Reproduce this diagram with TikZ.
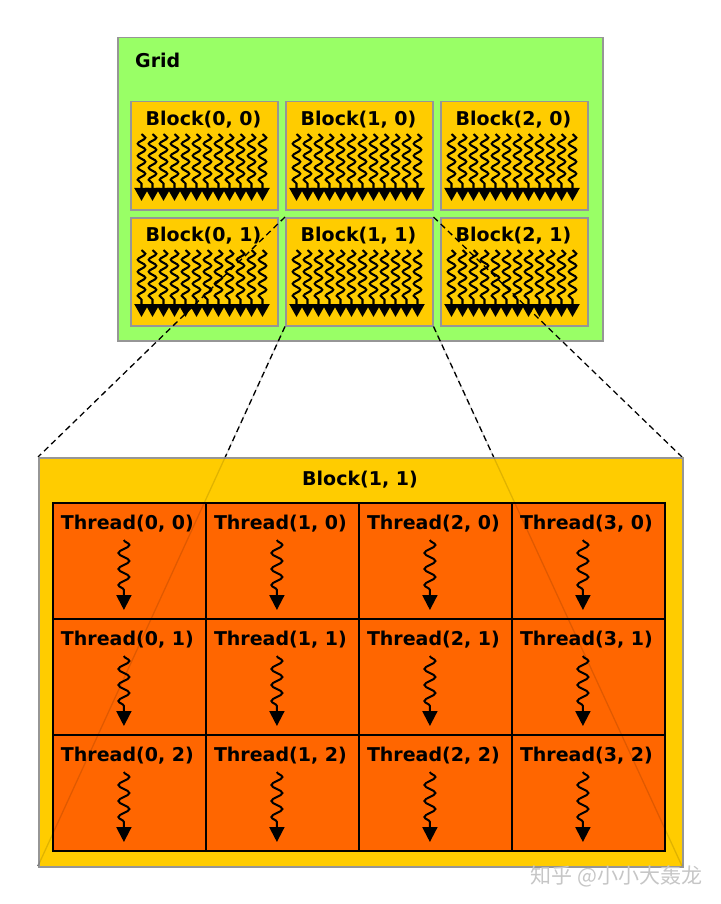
\documentclass[tikz,border=0pt]{standalone}
\usepackage{fontspec}
\setmainfont{DejaVu Sans}
\newfontfamily\cjkfont{Noto Sans CJK SC}
\usetikzlibrary{positioning,arrows.meta,decorations.pathmorphing}
\definecolor{grid-green}{RGB}{153, 255, 102}
\definecolor{block-yellow}{RGB}{255, 204, 0}
\definecolor{thread-orange}{RGB}{255, 102, 0}
\definecolor{frame-gray}{RGB}{150, 150, 150}

\begin{document}
\begin{tikzpicture}[
        x=1pt, y=-1pt,
        gridbox/.style={draw=frame-gray, line width=1.5pt, fill=grid-green, anchor=north west, inner sep=0pt, minimum width=485pt, minimum height=303pt},
        blockbox/.style={draw=frame-gray, line width=1.5pt, fill=block-yellow, anchor=north west, inner sep=0pt, minimum width=147pt, minimum height=108pt},
        bigbox/.style={draw=frame-gray, line width=1.5pt, fill=block-yellow, anchor=north west, inner sep=0pt, minimum width=644pt, minimum height=409pt},
        cellbox/.style={draw=black, line width=1.8pt, fill=thread-orange, anchor=north west, inner sep=0pt, minimum width=153pt, minimum height=116pt},
        lbl/.style={font=\fontsize{19}{22}\selectfont\bfseries, inner sep=0pt},
        warp/.style={line width=2.1pt, decorate, decoration={snake, amplitude=3.8pt, segment length=12pt, post length=13pt}, -{Triangle[width=14pt, length=13pt]}},
        bigwarp/.style={line width=2pt, decorate, decoration={snake, amplitude=5.5pt, segment length=16pt, post length=15pt}, -{Triangle[width=15pt, length=15pt]}},
        zoomline/.style={line width=1.3pt, dash pattern=on 6pt off 4pt},
        faintline/.style={line width=1.3pt, black, opacity=0.12}
    ]
        \useasboundingbox (0,0) rectangle (720,904);

        % Grid with its blocks
        \node[gridbox] (grid) at (117,37) {};
        \node[lbl, anchor=west] (gridlabel) at (135,60) {Grid};
        \foreach \col/\row/\x/\y in {0/0/130/101, 1/0/285/101, 2/0/440/101, 0/1/130/217, 1/1/285/217, 2/1/440/217} {
            \node[blockbox] (b\col\row) at (\x,\y) {};
            \node[lbl] at (\x+73.5,\y+19) {Block(\col, \row)};
            \foreach \k in {0,...,11}
                \draw[warp] (\x+11.5+11*\k,\y+33) -- (\x+11.5+11*\k,\y+100);
        }

        % Corners of the enlarged block
        \coordinate (bigNW) at (38,457);
        \coordinate (bigNE) at (682,457);
        \coordinate (bigSW) at (38,866);
        \coordinate (bigSE) at (682,866);

        % Zoom lines - behind the enlarged block
        \draw[zoomline] (b11.north west) -- (bigNW);
        \draw[zoomline] (b11.north east) -- (bigNE);
        \draw[zoomline] (b11.south west) -- (bigSW);
        \draw[zoomline] (b11.south east) -- (bigSE);

        % Enlarged block with its threads
        \node[bigbox] (big) at (bigNW) {};
        \node[lbl] (biglabel) at (360,480) {Block(1, 1)};
        \foreach \col in {0,...,3}
            \foreach \row in {0,1,2} {
                \node[cellbox] (t\col\row) at (52+153*\col,502+116*\row) {};
                \node[lbl] at ([xshift=-2pt, yshift=-22pt]t\col\row.north) {Thread(\col, \row)};
                \draw[bigwarp] ([xshift=-5.5pt, yshift=-38pt]t\col\row.north) -- ([xshift=-5.5pt, yshift=-108pt]t\col\row.north);
            }

        % Zoom lines seen through the block
        \draw[faintline] (b11.south west) -- (bigSW);
        \draw[faintline] (b11.south east) -- (bigSE);

        \node[font=\cjkfont\fontsize{21}{24}\selectfont, text=gray!45, anchor=east] (mark) at (706,876) {知乎 @小小大轰龙};
    \end{tikzpicture}
\end{document}
